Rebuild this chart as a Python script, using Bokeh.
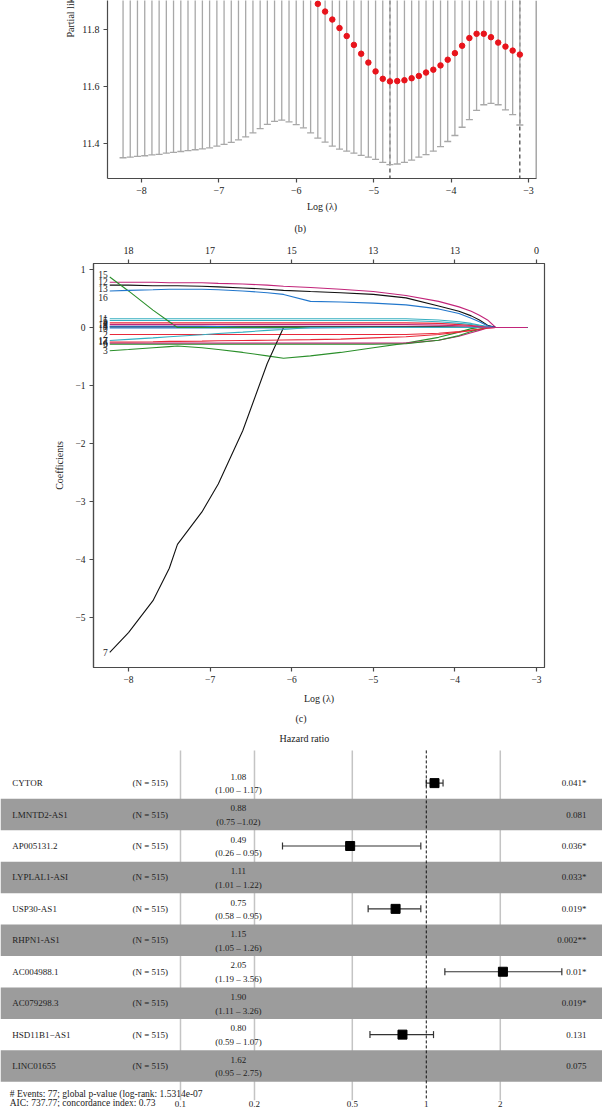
import math
from bokeh.plotting import figure
from bokeh.models import Range1d, LinearAxis, FixedTicker, Span, Title, ColumnDataSource
from bokeh.core.properties import value
from bokeh.embed import file_html
from bokeh.resources import INLINE

SERIF = "Liberation Serif"
AX = "#4a4a4a"
TXT = "#222222"

# ---------------- data: (b) cross-validation curve ----------------
log_lambda = [-8.238, -8.145, -8.052, -7.958, -7.865, -7.772, -7.679, -7.586, -7.492, -7.399,
              -7.306, -7.213, -7.120, -7.026, -6.933, -6.840, -6.747, -6.654, -6.560, -6.467,
              -6.374, -6.281, -6.188, -6.094, -6.001, -5.908, -5.815, -5.722, -5.628, -5.535,
              -5.442, -5.349, -5.256, -5.162, -5.069, -4.976, -4.883, -4.790, -4.696, -4.603,
              -4.510, -4.417, -4.324, -4.230, -4.137, -4.044, -3.951, -3.858, -3.764, -3.671,
              -3.578, -3.485, -3.392, -3.298, -3.205, -3.112]
cv_mean = [12.05, 12.05, 12.05, 12.05, 12.04, 12.04, 12.04, 12.03, 12.03, 12.03,
           12.03, 12.02, 12.02, 12.02, 12.02, 12.02, 12.03, 12.03, 12.04, 12.05,
           12.05, 12.05, 12.04, 12.02, 12.00, 11.97, 11.93, 11.890, 11.863, 11.835,
           11.805, 11.777, 11.746, 11.715, 11.684, 11.653, 11.627, 11.618, 11.619, 11.622,
           11.629, 11.637, 11.649, 11.659, 11.674, 11.694, 11.717, 11.743, 11.770, 11.785,
           11.785, 11.773, 11.754, 11.740, 11.726, 11.712]
cv_lower = [11.350, 11.352, 11.355, 11.357, 11.360, 11.362, 11.366, 11.369, 11.372, 11.375,
            11.378, 11.381, 11.385, 11.391, 11.397, 11.404, 11.413, 11.423, 11.437, 11.452,
            11.467, 11.478, 11.482, 11.476, 11.466, 11.455, 11.437, 11.419, 11.405, 11.391,
            11.380, 11.373, 11.366, 11.358, 11.352, 11.344, 11.334, 11.326, 11.328, 11.334,
            11.342, 11.352, 11.361, 11.373, 11.389, 11.407, 11.428, 11.457, 11.484, 11.516,
            11.536, 11.541, 11.536, 11.518, 11.501, 11.465]
lambda_min_log = -4.790
lambda_1se_log = -3.112
b_xticks = [-8, -7, -6, -5, -4, -3]
b_yticks = [11.4, 11.6, 11.8]

# ---------------- data: (c) coefficient paths ----------------
coef_knots = [-8.23, -8.0, -7.7, -7.5, -7.4, -7.1, -6.9, -6.6, -6.3, -6.1, -5.77,
              -5.4, -5.0, -4.6, -4.2, -3.95, -3.8, -3.7, -3.6, -3.5, -3.112]
coef_v1 = [0.01, 0.01, 0.01, 0.01, 0.01, 0.01, 0.01, 0.01, 0.01, 0.01, 0.01, 0.01, 0.01, 0.01, 0.01, 0.008, 0.005, 0.003, 0.001, 0, 0]
coef_v2 = [-0.12, -0.12, -0.12, -0.12, -0.12, -0.12, -0.12, -0.12, -0.12, -0.12, -0.12, -0.12, -0.12, -0.12, -0.10, -0.07, -0.05, -0.03, -0.01, 0, 0]
coef_v3 = [-0.40, -0.38, -0.35, -0.33, -0.32, -0.35, -0.38, -0.43, -0.49, -0.53, -0.49, -0.43, -0.35, -0.27, -0.17, -0.08, -0.02, 0, 0, 0, 0]
coef_v4 = [0.02, 0.02, 0.02, 0.02, 0.02, 0.02, 0.015, 0.005, 0, 0, 0, 0, 0, 0, 0, 0, 0, 0, 0, 0, 0]
coef_v5 = [0.12, 0.12, 0.12, 0.12, 0.12, 0.12, 0.12, 0.12, 0.12, 0.12, 0.12, 0.12, 0.12, 0.12, 0.10, 0.07, 0.05, 0.03, 0.01, 0, 0]
coef_v6 = [-0.27, -0.27, -0.27, -0.27, -0.27, -0.27, -0.27, -0.27, -0.27, -0.27, -0.27, -0.27, -0.27, -0.27, -0.22, -0.15, -0.09, -0.05, -0.01, 0, 0]
coef_v7 = [-5.60, -5.26, -4.71, -4.15, -3.74, -3.18, -2.70, -1.78, -0.62, 0, 0, 0, 0, 0, 0, 0, 0, 0, 0, 0, 0]
coef_v8 = [0.08, 0.08, 0.08, 0.08, 0.08, 0.08, 0.08, 0.08, 0.08, 0.08, 0.08, 0.08, 0.08, 0.08, 0.07, 0.05, 0.035, 0.02, 0.01, 0, 0]
coef_v9 = [-0.29, -0.29, -0.29, -0.29, -0.29, -0.29, -0.29, -0.29, -0.29, -0.29, -0.29, -0.29, -0.29, -0.28, -0.22, -0.14, -0.07, -0.03, 0, 0, 0]
coef_v10 = [-0.01, -0.01, -0.01, -0.01, -0.01, -0.01, -0.01, -0.01, -0.01, -0.01, -0.01, -0.005, 0, 0, 0, 0, 0, 0, 0, 0, 0]
coef_v11 = [0.15, 0.15, 0.15, 0.15, 0.15, 0.15, 0.15, 0.15, 0.15, 0.15, 0.15, 0.15, 0.15, 0.15, 0.13, 0.10, 0.07, 0.04, 0.015, 0, 0]
coef_v12 = [0.78, 0.78, 0.78, 0.77, 0.77, 0.77, 0.76, 0.75, 0.73, 0.71, 0.69, 0.66, 0.62, 0.55, 0.45, 0.355, 0.28, 0.21, 0.13, 0, 0]
coef_v13 = [0.73, 0.73, 0.72, 0.72, 0.72, 0.71, 0.70, 0.68, 0.66, 0.64, 0.62, 0.60, 0.57, 0.51, 0.37, 0.28, 0.20, 0.13, 0.04, 0, 0]
coef_v14 = [-0.25, -0.25, -0.245, -0.24, -0.24, -0.235, -0.23, -0.225, -0.22, -0.215, -0.21, -0.20, -0.18, -0.16, -0.12, -0.08, -0.05, -0.03, -0.01, 0, 0]
coef_v15 = [0.87, 0.63, 0.30, 0.10, 0, 0, 0, 0, 0, 0, 0, 0, 0, 0, 0, 0, 0, 0, 0, 0, 0]
coef_v16 = [0.63, 0.64, 0.65, 0.66, 0.66, 0.66, 0.65, 0.63, 0.60, 0.57, 0.45, 0.44, 0.42, 0.39, 0.32, 0.24, 0.16, 0.10, 0.03, 0, 0]
coef_v17 = [-0.225, -0.205, -0.18, -0.16, -0.15, -0.125, -0.105, -0.08, -0.05, -0.035, 0, 0, 0, 0, 0, 0, 0, 0, 0, 0, 0]
coef_v18 = [0.05, 0.05, 0.05, 0.05, 0.05, 0.05, 0.05, 0.05, 0.05, 0.05, 0.05, 0.05, 0.05, 0.05, 0.04, 0.03, 0.02, 0.01, 0.005, 0, 0]
coef_paths = [coef_v1, coef_v2, coef_v3, coef_v4, coef_v5, coef_v6, coef_v7, coef_v8, coef_v9,
              coef_v10, coef_v11, coef_v12, coef_v13, coef_v14, coef_v15, coef_v16, coef_v17, coef_v18]
# variable-number labels as printed at the left end of the paths (value axis position)
path_label_names = ["1", "2", "3", "4", "5", "6", "7", "8", "9",
                    "10", "11", "12", "13", "14", "15", "16", "17", "18"]
path_label_at = [0.01, -0.12, -0.40, 0.03, 0.12, -0.27, -5.60, 0.08, -0.29,
                 -0.01, 0.16, 0.79, 0.67, -0.24, 0.91, 0.52, -0.22, 0.05]
path_palette = ["#111111", "#e8293a", "#2a8f2a", "#2277cc", "#36aec0", "#c2257a"]
c_xticks = [-8, -7, -6, -5, -4, -3]
c_df_labels = ["18", "17", "15", "13", "13", "0"]
c_yticks = [-5, -4, -3, -2, -1, 0, 1]

# ---------------- data: (d) forest plot ----------------
genes = ["CYTOR", "LMNTD2-AS1", "AP005131.2", "LYPLAL1-ASI", "USP30-AS1",
         "RHPN1-AS1", "AC004988.1", "AC079298.3", "HSD11B1\u2212AS1", "LINC01655"]
n_obs = [515, 515, 515, 515, 515, 515, 515, 515, 515, 515]
hr = [1.08, 0.88, 0.49, 1.11, 0.75, 1.15, 2.05, 1.90, 0.80, 1.62]
ci_low = [1.00, 0.75, 0.26, 1.01, 0.58, 1.05, 1.19, 1.11, 0.59, 0.95]
ci_high = [1.17, 1.02, 0.95, 1.22, 0.95, 1.26, 3.56, 3.26, 1.07, 2.75]
ci_text = ["(1.00 \u2013 1.17)", "(0.75 \u20131.02)", "(0.26 \u2013 0.95)", "(1.01 \u2013 1.22)",
           "(0.58 \u2013 0.95)", "(1.05 \u2013 1.26)", "(1.19 \u2013 3.56)", "(1.11 \u2013 3.26)",
           "(0.59 \u2013 1.07)", "(0.95 \u2013 2.75)"]
p_text = ["0.041*", "0.081", "0.036*", "0.033*", "0.019*", "0.002**", "0.01*", "0.019*", "0.131", "0.075"]
hr_grid = [0.1, 0.2, 0.5, 2]
hr_tick_labels = ["0.1", "0.2", "0.5", "1", "2"]
hr_tick_values = [0.1, 0.2, 0.5, 1, 2]
footer1 = "# Events: 77; global p-value (log-rank: 1.5314e-07"
footer2 = "AIC: 737.77; concordance index: 0.73"


def style_axis(ax, size="10px"):
    ax.axis_line_color = AX
    ax.axis_line_width = 1.2
    ax.major_tick_line_color = AX
    ax.major_tick_line_width = 1.2
    ax.major_tick_out = 4
    ax.major_tick_in = 0
    ax.minor_tick_line_color = None
    ax.major_label_text_font = SERIF
    ax.major_label_text_font_size = size
    ax.major_label_text_color = TXT
    ax.major_label_standoff = 4
    ax.axis_label_text_font = SERIF
    ax.axis_label_text_font_size = "10px"
    ax.axis_label_text_font_style = "normal"
    ax.axis_label_text_color = TXT


def caption(text, offset, standoff):
    return Title(text=text, align="left", offset=offset, standoff=standoff, text_font=SERIF,
                 text_font_size="10px", text_font_style="normal", text_color=TXT)


# ================= (b) =================
pb = figure(width=602, height=241, x_range=Range1d(-8.439, -2.897), y_range=Range1d(11.2772, 11.9018),
            output_backend="svg", toolbar_location=None,
            min_border_left=107, min_border_right=66, min_border_top=0, min_border_bottom=63)
pb.outline_line_color = None
pb.grid.visible = False
style_axis(pb.xaxis[0])
style_axis(pb.yaxis[0])
pb.xaxis.ticker = FixedTicker(ticks=b_xticks)
pb.xaxis.major_label_overrides = {t: "\u2212" + str(abs(t)) for t in b_xticks}
pb.yaxis.ticker = FixedTicker(ticks=b_yticks)
pb.xaxis.axis_label = "Log (\u03bb)"
pb.xaxis.axis_label_standoff = 4

cv_upper = [2 * m - l for m, l in zip(cv_mean, cv_lower)]
srcb = ColumnDataSource(dict(x=log_lambda, m=cv_mean, lo=cv_lower, up=cv_upper))
pb.segment(x0="x", y0="lo", x1="x", y1="up", source=srcb, line_color="#a8a8a8", line_width=1.3)
pb.scatter(x="x", y="lo", source=srcb, marker="dash", size=7, line_color="#a8a8a8", line_width=1.3)
pb.scatter(x="x", y="up", source=srcb, marker="dash", size=7, line_color="#a8a8a8", line_width=1.3)
for loc in (lambda_min_log, lambda_1se_log):
    pb.add_layout(Span(location=loc, dimension="height", line_color="#111111", line_width=1,
                       line_dash="4 3", level="underlay"))
pb.scatter(x="x", y="m", source=srcb, size=5.5, fill_color="#e8141c", line_color="#e8141c")
pb.add_layout(Span(location=-2.899, dimension="height", line_color=AX, line_width=1.2))
pb.add_layout(caption("Partial likelihood deviance", 141, 8), "left")
pb.add_layout(caption("(b)", 187, 13), "below")

# ================= (c) =================
pc = figure(width=602, height=487, x_range=Range1d(-8.429, -2.902), y_range=Range1d(-5.862, 1.103),
            output_backend="svg", toolbar_location=None,
            min_border_left=93, min_border_right=58, min_border_top=22, min_border_bottom=61)
pc.outline_line_color = AX
pc.outline_line_width = 1.2
pc.grid.visible = False
style_axis(pc.xaxis[0], "9.5px")
style_axis(pc.yaxis[0], "9.5px")
pc.xaxis.ticker = FixedTicker(ticks=c_xticks)
pc.yaxis.ticker = FixedTicker(ticks=c_yticks)
pc.xaxis.axis_label = "Log (\u03bb)"
pc.xaxis.axis_label_standoff = 7
pc.yaxis.axis_label = "Coefficients"
pc.yaxis.axis_label_standoff = 7
top_ax = LinearAxis(ticker=FixedTicker(ticks=c_xticks),
                    major_label_overrides={t: s for t, s in zip(c_xticks, c_df_labels)})
style_axis(top_ax, "10px")
top_ax.major_label_standoff = 6
pc.add_layout(top_ax, "above")
pc.add_layout(caption("(c)", 202, 9), "below")

for i, path in enumerate(coef_paths):
    pc.line(coef_knots, path, line_color=path_palette[i % 6], line_width=1.1)
lab_src = ColumnDataSource(dict(x=[coef_knots[0]] * len(coef_paths), y=path_label_at, t=path_label_names))
pc.text(x="x", y="y", text="t", source=lab_src, x_offset=-2, text_align="right", text_baseline="middle",
        text_font=value(SERIF), text_font_size="9.5px", text_color=TXT)

# ================= (d) =================
x_lo, x_hi = 10 ** -1.7323, 10 ** 0.7169
pd_ = figure(width=602, height=379, x_axis_type="log", x_range=Range1d(x_lo, x_hi),
             y_range=Range1d(11.318, -0.737), output_backend="svg", toolbar_location=None,
             x_axis_location=None, y_axis_location=None, min_border=0)
pd_.outline_line_color = None
pd_.grid.visible = False

rows = list(range(1, len(genes) + 1))
pd_.segment(x0=hr_grid, y0=[-0.04] * len(hr_grid), x1=hr_grid, y1=[11.09] * len(hr_grid),
            line_color="#c4c4c4", line_width=1.5)
src = ColumnDataSource(dict(y=rows, hr=hr, lo=ci_low, hi=ci_high, g=genes,
                            n=["(N = %d)" % n for n in n_obs],
                            hrt=["%.2f" % h for h in hr], cit=ci_text, p=p_text,
                            yh=[r - 0.2 for r in rows], yc=[r + 0.235 for r in rows]))
pd_.segment(x0="lo", y0="y", x1="hi", y1="y", source=src, line_color="#333333", line_width=1.2)
pd_.scatter(x="lo", y="y", source=src, marker="dash", angle=math.pi / 2, size=7, line_color="#333333", line_width=1.2)
pd_.scatter(x="hi", y="y", source=src, marker="dash", angle=math.pi / 2, size=7, line_color="#333333", line_width=1.2)
pd_.scatter(x="hr", y="y", source=src, marker="square", size=9, fill_color="black", line_color="black")

gray_rows = [r for r in rows if r % 2 == 0]
pd_.quad(left=[x_lo] * len(gray_rows), right=[x_hi] * len(gray_rows),
         top=[r - 0.5 for r in gray_rows], bottom=[r + 0.5 for r in gray_rows],
         fill_color="#9c9c9c", line_color=None)
pd_.segment(x0=[1], y0=[-0.04], x1=[1], y1=[11.09], line_color="#111111", line_width=1, line_dash="3 2")

tkw = dict(source=src, text_font=value(SERIF), text_font_size="9px", text_color=TXT, text_baseline="middle")
pd_.text(x=0.0207, y="y", text="g", text_align="left", **tkw)
pd_.text(x=0.0638, y="y", text="n", text_align="left", **tkw)
pd_.text(x=0.172, y="yh", text="hrt", text_align="center", **tkw)
pd_.text(x=0.172, y="yc", text="cit", text_align="center", **tkw)
pd_.text(x=4.486, y="y", text="p", text_align="right", **tkw)
pd_.text(x=[0.3194], y=[-0.433], text=["Hazard ratio"], text_align="center", text_baseline="middle",
         text_font=value(SERIF), text_font_size="10px", text_color=TXT)
pd_.text(x=[0.0202, 0.0202], y=[10.873, 11.180], text=[footer1, footer2], text_align="left",
         text_baseline="middle", text_font=value(SERIF), text_font_size="9.5px", text_color=TXT)
pd_.text(x=hr_tick_values, y=[11.127] * len(hr_tick_values), text=hr_tick_labels, text_align="center",
         text_baseline="top", text_font=value(SERIF), text_font_size="9px", text_color=TXT)

open("out.html", "w").write(file_html([pb, pc, pd_], INLINE))
